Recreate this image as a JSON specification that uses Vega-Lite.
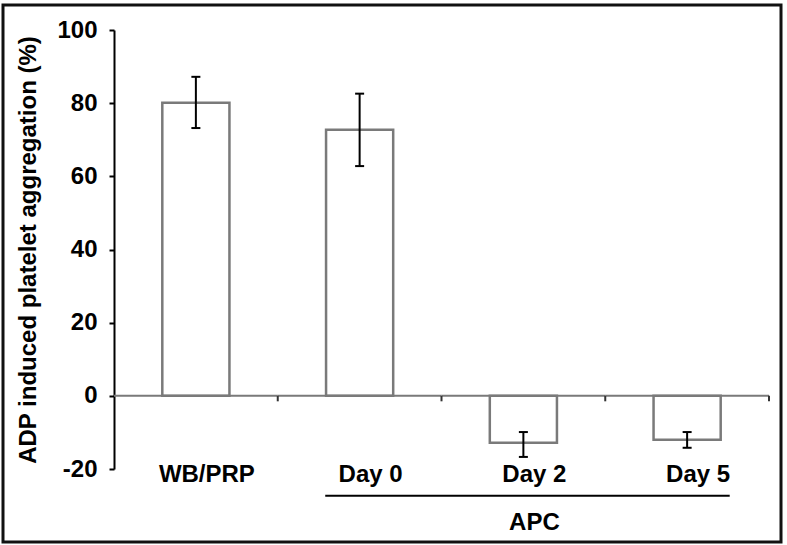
{
  "$schema": "https://vega.github.io/schema/vega-lite/v6.json",
  "width": 778,
  "height": 537,
  "autosize": {"type": "none"},
  "padding": {"left": 3, "top": 5, "right": 6, "bottom": 3},
  "background": "#ffffff",
  "config": {
    "view": {"stroke": "#111111", "strokeWidth": 3},
    "font": "Liberation Sans",
    "axis": {"labelFont": "Liberation Sans", "titleFont": "Liberation Sans"}
  },
  "data": {
    "values": [
      {"group": "WB/PRP", "mean": 80.1, "low": 73.2, "high": 87.2},
      {"group": "Day 0", "mean": 72.7, "low": 62.8, "high": 82.6},
      {"group": "Day 2", "mean": -12.8, "low": -16.7, "high": -9.9},
      {"group": "Day 5", "mean": -12.0, "low": -14.2, "high": -9.9}
    ]
  },
  "layer": [
    {
      "mark": {"type": "bar", "fill": "#ffffff", "stroke": "#7a7a7a", "strokeWidth": 2.5, "width": {"band": 0.41}},
      "encoding": {
        "x": {"field": "group", "type": "nominal", "sort": null, "axis": null,
              "scale": {"domain": ["WB/PRP", "Day 0", "Day 2", "Day 5"], "range": [111, 766], "paddingInner": 0, "paddingOuter": 0}},
        "y": {"field": "mean", "type": "quantitative",
              "title": "ADP induced platelet aggregation (%)",
              "scale": {"domain": [-20, 100], "range": [464, 25], "nice": false, "zero": false},
              "axis": {"values": [-20, 0, 20, 40, 60, 80, 100], "offset": -111, "grid": false,
                       "labelExpr": "toString(datum.value)",
                       "domainColor": "#000000", "domainWidth": 2, "tickColor": "#000000", "tickWidth": 2, "tickSize": 5,
                       "labelPadding": 12, "labelFontSize": 24, "labelFontWeight": "bold", "labelColor": "#000000",
                       "titleFontSize": 24, "titleFontWeight": "bold", "titleColor": "#000000", "titlePadding": 16}}
      }
    },
    {
      "mark": {"type": "bar", "fill": null, "stroke": "#7a7a7a", "strokeWidth": 2, "width": {"band": 1}},
      "encoding": {
        "x": {"field": "group", "type": "nominal", "sort": null, "axis": null},
        "y": {"datum": 0, "type": "quantitative", "title": "ADP induced platelet aggregation (%)"},
        "y2": {"datum": 0}
      }
    },
    {
      "mark": {"type": "rule", "stroke": "#333333", "strokeWidth": 2},
      "encoding": {
        "x": {"field": "group", "type": "nominal", "sort": null, "axis": null, "bandPosition": 1},
        "y": {"datum": 0, "type": "quantitative", "title": "ADP induced platelet aggregation (%)"},
        "y2": {"datum": -1.5}
      }
    },
    {
      "mark": {"type": "rule", "stroke": "#000000", "strokeWidth": 2},
      "encoding": {
        "x": {"field": "group", "type": "nominal", "sort": null, "axis": null},
        "y": {"field": "low", "type": "quantitative", "title": "ADP induced platelet aggregation (%)"},
        "y2": {"field": "high"}
      }
    },
    {
      "mark": {"type": "tick", "color": "#000000", "size": 9, "thickness": 2, "opacity": 1},
      "encoding": {
        "x": {"field": "group", "type": "nominal", "sort": null, "axis": null},
        "y": {"field": "low", "type": "quantitative", "title": "ADP induced platelet aggregation (%)"}
      }
    },
    {
      "mark": {"type": "tick", "color": "#000000", "size": 9, "thickness": 2, "opacity": 1},
      "encoding": {
        "x": {"field": "group", "type": "nominal", "sort": null, "axis": null},
        "y": {"field": "high", "type": "quantitative", "title": "ADP induced platelet aggregation (%)"}
      }
    },
    {
      "mark": {"type": "text", "font": "Liberation Sans", "fontSize": 24, "fontWeight": "bold", "color": "#000000", "dx": 11, "baseline": "middle"},
      "encoding": {
        "x": {"field": "group", "type": "nominal", "sort": null, "axis": null},
        "y": {"datum": -21.6, "type": "quantitative", "title": "ADP induced platelet aggregation (%)"},
        "text": {"field": "group"}
      }
    },
    {
      "data": {"values": [{"label": "APC"}]},
      "mark": {"type": "rule", "stroke": "#000000", "strokeWidth": 2},
      "encoding": {
        "x": {"datum": "Day 0", "type": "nominal", "axis": null, "bandPosition": 0.29},
        "x2": {"datum": "Day 5", "bandPosition": 0.76},
        "y": {"datum": -27.3, "type": "quantitative", "title": "ADP induced platelet aggregation (%)"}
      }
    },
    {
      "data": {"values": [{"label": "APC"}]},
      "mark": {"type": "text", "font": "Liberation Sans", "fontSize": 24, "fontWeight": "bold", "color": "#000000", "dx": 11, "baseline": "middle"},
      "encoding": {
        "x": {"datum": "Day 2", "type": "nominal", "axis": null},
        "y": {"datum": -34.8, "type": "quantitative", "title": "ADP induced platelet aggregation (%)"},
        "text": {"field": "label"}
      }
    }
  ]
}
